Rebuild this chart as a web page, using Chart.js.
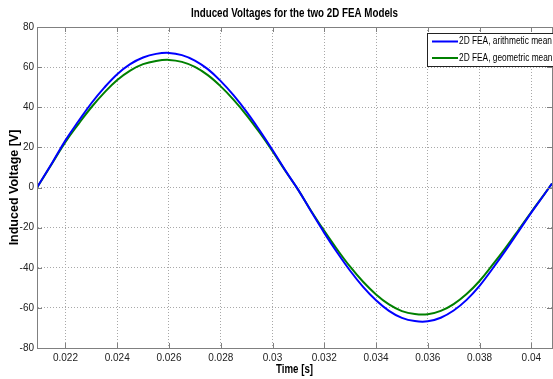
<!DOCTYPE html>
<html lang="en">
<head>
<meta charset="UTF-8">
<title>Induced Voltages</title>
<script src="https://cdn.jsdelivr.net/npm/chart.js@4"></script>
<style>
    html, body {
        margin: 0;
        padding: 0;
        background: #fff;
    }
</style>
</head>
<body>
<canvas id="voltage-chart" width="553" height="379"></canvas>

<script>
    // Time axis (s) and the two induced voltage curves (V)
    const timeValues = [
        0.0209, 0.0215, 0.022, 0.0225, 0.023, 0.0235, 0.024, 0.0245, 0.025, 0.0255,
        0.026, 0.0265, 0.027, 0.0275, 0.028, 0.0285, 0.029, 0.0295, 0.030, 0.0305,
        0.031, 0.0315, 0.032, 0.0325, 0.033, 0.0335, 0.034, 0.0345, 0.035, 0.0355,
        0.036, 0.0365, 0.037, 0.0375, 0.038, 0.0385, 0.039, 0.0395, 0.040, 0.0405,
        0.0408
    ];
    const arithmeticMean = [
        0, 12.6, 23.5, 33.0, 42.0, 49.8, 56.5, 61.5, 64.8, 66.6,
        67.1, 66.0, 63.3, 59.0, 53.0, 45.9, 37.7, 28.5, 18.7, 8.4,
        -1.3, -12.1, -22.6, -32.4, -41.5, -49.5, -56.2, -61.5, -65.0, -66.6,
        -66.7, -64.9, -61.3, -56.0, -49.0, -40.5, -31.5, -22.0, -12.5, -3.5,
        2.0
    ];
    const geometricMean = [
        0, 12.3, 22.7, 31.6, 40.0, 47.3, 53.6, 58.3, 61.5, 63.1,
        63.6, 62.6, 60.1, 56.0, 50.4, 43.7, 36.0, 27.4, 18.1, 8.2,
        -1.3, -11.8, -21.6, -30.9, -39.5, -47.0, -53.3, -58.3, -61.6, -63.1,
        -63.2, -61.5, -58.1, -53.1, -46.6, -38.6, -30.2, -21.3, -12.2, -3.4,
        2.0
    ];
    const seriesNames = ['2D FEA, arithmetic mean', '2D FEA, geometric mean'];
    const xTicks = [0.022, 0.024, 0.026, 0.028, 0.03, 0.032, 0.034, 0.036, 0.038, 0.04];
    const yTicks = [-80, -60, -40, -20, 0, 20, 40, 60, 80];

    const chartTitle = 'Induced Voltages for the two 2D FEA Models';
    const xTitle = 'Time [s]';
    const yTitle = 'Induced Voltage [V]';

    const sans = "'Liberation Sans', Arial, sans-serif";
    const axisGray = '#808080';

    function toPoints(values) {
        return values.map((v, i) => ({ x: timeValues[i], y: v }));
    }

    // squeeze text sideways so it looks like the narrow matlab font
    function fitText(ctx, text, x, y, width) {
        const k = Math.min(1, width / ctx.measureText(text).width);
        ctx.save();
        ctx.translate(x, y);
        ctx.scale(k, 1);
        ctx.fillText(text, 0, 0);
        ctx.restore();
    }

    // MATLAB style box, inner tick marks, titles and legend
    const matlabFrame = {
        id: 'matlabFrame',
        afterDraw(chart) {
            const { ctx, chartArea: a, scales } = chart;
            const midX = (a.left + a.right) / 2;
            ctx.save();
            ctx.strokeStyle = axisGray;
            ctx.lineWidth = 1;
            ctx.strokeRect(a.left + 0.5, a.top + 0.5, a.right - a.left, a.bottom - a.top);

            ctx.beginPath();
            xTicks.forEach(v => {
                const x = Math.round(scales.x.getPixelForValue(v)) + 0.5;
                ctx.moveTo(x, a.bottom); ctx.lineTo(x, a.bottom - 5);
                ctx.moveTo(x, a.top); ctx.lineTo(x, a.top + 5);
            });
            yTicks.forEach(v => {
                const y = Math.round(scales.y.getPixelForValue(v)) + 0.5;
                ctx.moveTo(a.left, y); ctx.lineTo(a.left + 5, y);
                ctx.moveTo(a.right, y); ctx.lineTo(a.right - 5, y);
            });
            ctx.stroke();

            ctx.fillStyle = '#000';
            ctx.font = 'bold 12px ' + sans;
            ctx.textAlign = 'center';
            ctx.textBaseline = 'middle';
            fitText(ctx, chartTitle, midX, 14, 207);
            fitText(ctx, xTitle, midX, 370, 37);

            // legend box
            const boxLeft = 427, boxTop = 33, boxBottom = 66;
            ctx.fillStyle = '#fff';
            ctx.fillRect(boxLeft, boxTop, 140, boxBottom - boxTop);
            ctx.strokeStyle = '#222';
            ctx.strokeRect(boxLeft + 0.5, boxTop + 0.5, 140, boxBottom - boxTop);
            ctx.font = '10px ' + sans;
            ctx.textAlign = 'left';
            const k = 93 / ctx.measureText(seriesNames[0]).width;
            chart.data.datasets.forEach((ds, i) => {
                const y = 41.5 + i * 16.5;
                ctx.strokeStyle = ds.borderColor;
                ctx.lineWidth = 2;
                ctx.beginPath();
                ctx.moveTo(432, y);
                ctx.lineTo(458, y);
                ctx.stroke();
                ctx.fillStyle = '#000';
                ctx.save();
                ctx.translate(459, y);
                ctx.scale(k, 1);
                ctx.fillText(ds.label, 0, 0);
                ctx.restore();
            });
            ctx.restore();
        }
    };

    const voltageChart = new Chart(document.getElementById('voltage-chart'), {
        type: 'line',
        data: {
            datasets: [{
                label: seriesNames[0],
                data: toPoints(arithmeticMean),
                borderColor: '#0000ff',
                borderWidth: 2,
                pointRadius: 0,
                tension: 0.4,
                fill: false
            }, {
                label: seriesNames[1],
                data: toPoints(geometricMean),
                borderColor: '#008000',
                borderWidth: 2,
                pointRadius: 0,
                tension: 0.4,
                fill: false
            }]
        },
        options: {
            responsive: false,
            animation: false,
            layout: { padding: { left: 0, right: 1, top: 27, bottom: 0 } },
            plugins: {
                legend: { display: false },
                tooltip: { enabled: false },
                title: { display: false }
            },
            scales: {
                x: {
                    type: 'linear',
                    min: timeValues[0],
                    max: timeValues[timeValues.length - 1],
                    afterBuildTicks: s => { s.ticks = xTicks.map(v => ({ value: v })); },
                    afterFit: s => { s.height = 31; },
                    ticks: {
                        padding: 4,
                        color: '#222',
                        font: { family: sans, size: 10 },
                        maxRotation: 0,
                        callback: v => String(Number(v.toFixed(3)))
                    },
                    grid: { color: '#a8a8a8', drawTicks: false },
                    border: { color: axisGray, dash: [1, 2] }
                },
                y: {
                    min: -80,
                    max: 80,
                    afterBuildTicks: s => { s.ticks = yTicks.map(v => ({ value: v })); },
                    afterFit: s => { s.width = 37; },
                    ticks: {
                        padding: 3,
                        color: '#222',
                        font: { family: sans, size: 10 }
                    },
                    grid: { color: '#a8a8a8', drawTicks: false },
                    border: { color: axisGray, dash: [1, 2] },
                    title: {
                        display: true,
                        text: yTitle,
                        color: '#000',
                        font: { family: sans, size: 12.5, weight: 'bold', lineHeight: 1.2 },
                        padding: { top: 7.5, bottom: 0 }
                    }
                }
            }
        },
        plugins: [matlabFrame]
    });
</script>
</body>
</html>
